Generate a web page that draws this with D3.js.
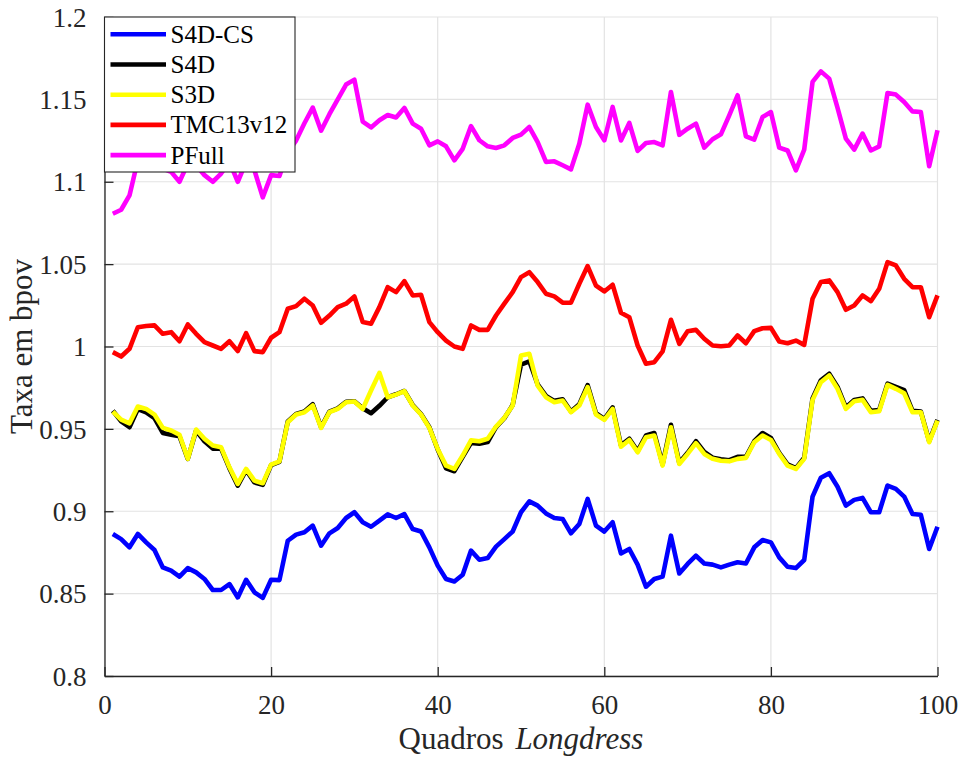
<!DOCTYPE html>
<html>
<head>
<meta charset="utf-8">
<script src="https://cdn.jsdelivr.net/npm/d3@7"></script>
<style>
  html, body { margin: 0; padding: 0; background: #fff; }
  svg { display: block; }
  svg text { font-family: "Liberation Serif", Tinos, "Times New Roman", Times, "DejaVu Serif", serif; }
</style>
</head>
<body>
<svg id="chart" width="963" height="760"></svg>
<script>
// Frame index 1..100 (Longdress sequence)
const frames = d3.range(1, 101);

const s4dcs = [
  0.8862, 0.8831, 0.8781, 0.8862, 0.8811, 0.8765, 0.8659, 0.8639, 0.8603, 0.8655,
  0.8629, 0.8589, 0.8522, 0.8522, 0.8558, 0.8477, 0.8584, 0.8508, 0.8474, 0.8584,
  0.8582, 0.8821, 0.8858, 0.8872, 0.8913, 0.8791, 0.8866, 0.8898, 0.8959, 0.8994,
  0.8933, 0.8906, 0.8943, 0.8981, 0.8959, 0.8983, 0.8892, 0.8877, 0.8781, 0.8670,
  0.8589, 0.8574, 0.8615, 0.8761, 0.8706, 0.8716, 0.8785, 0.8831, 0.8877, 0.8994,
  0.9060, 0.9034, 0.8987, 0.8959, 0.8953, 0.8866, 0.8923, 0.9075, 0.8913, 0.8877,
  0.8933, 0.8744, 0.8771, 0.8676, 0.8542, 0.8589, 0.8603, 0.8852, 0.8622, 0.8680,
  0.8730, 0.8683, 0.8676, 0.8659, 0.8676, 0.8690, 0.8683, 0.8781, 0.8825, 0.8811,
  0.8720, 0.8663, 0.8655, 0.8704, 0.9089, 0.9203, 0.9231, 0.9149, 0.9034, 0.9069,
  0.9081, 0.8994, 0.8994, 0.9156, 0.9136, 0.9089, 0.8983, 0.8979, 0.8771, 0.8906
];

const s4d = [
  0.9610, 0.9545, 0.9510, 0.9620, 0.9600, 0.9565, 0.9475, 0.9465, 0.9455, 0.9318,
  0.9490, 0.9425, 0.9380, 0.9380, 0.9260, 0.9155, 0.9250, 0.9175, 0.9160, 0.9280,
  0.9300, 0.9545, 0.9590, 0.9605, 0.9650, 0.9510, 0.9605, 0.9625, 0.9665, 0.9668,
  0.9625, 0.9595, 0.9640, 0.9692, 0.9710, 0.9730, 0.9645, 0.9590, 0.9510, 0.9375,
  0.9260, 0.9243, 0.9330, 0.9415, 0.9410, 0.9420, 0.9510, 0.9565, 0.9645, 0.9890,
  0.9910, 0.9770, 0.9700, 0.9670, 0.9680, 0.9605, 0.9650, 0.9765, 0.9595, 0.9560,
  0.9630, 0.9400, 0.9440, 0.9365, 0.9460, 0.9475, 0.9285, 0.9525, 0.9295, 0.9355,
  0.9425, 0.9360, 0.9325, 0.9315, 0.9310, 0.9330, 0.9330, 0.9425, 0.9475, 0.9445,
  0.9355, 0.9285, 0.9262, 0.9325, 0.9685, 0.9795, 0.9835, 0.9755, 0.9630, 0.9675,
  0.9685, 0.9610, 0.9615, 0.9775, 0.9755, 0.9735, 0.9610, 0.9605, 0.9425, 0.9555
];

const s3d = [
  0.9605, 0.9556, 0.9534, 0.9636, 0.9621, 0.9587, 0.9506, 0.9490, 0.9464, 0.9318,
  0.9496, 0.9440, 0.9399, 0.9388, 0.9267, 0.9166, 0.9257, 0.9186, 0.9170, 0.9283,
  0.9303, 0.9540, 0.9587, 0.9601, 0.9642, 0.9506, 0.9601, 0.9621, 0.9662, 0.9666,
  0.9621, 0.9733, 0.9840, 0.9692, 0.9708, 0.9729, 0.9642, 0.9587, 0.9506, 0.9378,
  0.9277, 0.9257, 0.9338, 0.9430, 0.9425, 0.9440, 0.9514, 0.9567, 0.9642, 0.9945,
  0.9956, 0.9763, 0.9692, 0.9662, 0.9672, 0.9601, 0.9642, 0.9753, 0.9587, 0.9555,
  0.9621, 0.9392, 0.9433, 0.9358, 0.9449, 0.9460, 0.9277, 0.9510, 0.9287, 0.9348,
  0.9413, 0.9348, 0.9318, 0.9307, 0.9303, 0.9318, 0.9324, 0.9419, 0.9460, 0.9433,
  0.9348, 0.9277, 0.9257, 0.9318, 0.9676, 0.9783, 0.9824, 0.9743, 0.9621, 0.9668,
  0.9676, 0.9601, 0.9607, 0.9767, 0.9743, 0.9716, 0.9601, 0.9601, 0.9419, 0.9550
];

const tmc13v12 = [
  0.9966, 0.9939, 0.9986, 1.0117, 1.0124, 1.0128, 1.0077, 1.0087, 1.0032, 1.0134,
  1.0077, 1.0026, 1.0006, 0.9986, 1.0032, 0.9972, 1.0081, 0.9972, 0.9966, 1.0053,
  1.0087, 1.0229, 1.0245, 1.0290, 1.0249, 1.0144, 1.0188, 1.0239, 1.0260, 1.0304,
  1.0148, 1.0138, 1.0239, 1.0360, 1.0330, 1.0397, 1.0310, 1.0314, 1.0148, 1.0087,
  1.0036, 1.0000, 0.9986, 1.0128, 1.0101, 1.0101, 1.0188, 1.0260, 1.0330, 1.0421,
  1.0451, 1.0391, 1.0320, 1.0304, 1.0266, 1.0266, 1.0381, 1.0488, 1.0370, 1.0334,
  1.0375, 1.0205, 1.0178, 1.0006, 0.9895, 0.9905, 0.9970, 1.0162, 1.0016, 1.0093,
  1.0101, 1.0047, 1.0006, 1.0002, 1.0006, 1.0067, 1.0020, 1.0093, 1.0111, 1.0113,
  1.0030, 1.0020, 1.0036, 1.0010, 1.0290, 1.0391, 1.0401, 1.0330, 1.0223, 1.0249,
  1.0310, 1.0275, 1.0350, 1.0512, 1.0492, 1.0411, 1.0360, 1.0360, 1.0178, 1.0310
];

const pfull = [
  1.0806, 1.0830, 1.0917, 1.1130, 1.1140, 1.1120, 1.1080, 1.1060, 1.1000, 1.1110,
  1.1100, 1.1040, 1.1000, 1.1050, 1.1120, 1.1000, 1.1120, 1.1070, 1.0905, 1.1040,
  1.1035, 1.1180, 1.1250, 1.1355, 1.1450, 1.1310, 1.1410, 1.1500, 1.1590, 1.1620,
  1.1365, 1.1330, 1.1373, 1.1405, 1.1390, 1.1448, 1.1353, 1.1322, 1.1221, 1.1245,
  1.1215, 1.1130, 1.1200, 1.1338, 1.1252, 1.1215, 1.1205, 1.1221, 1.1266, 1.1286,
  1.1332, 1.1241, 1.1120, 1.1124, 1.1100, 1.1075, 1.1231, 1.1468, 1.1332, 1.1251,
  1.1454, 1.1251, 1.1357, 1.1187, 1.1235, 1.1241, 1.1221, 1.1545, 1.1285, 1.1322,
  1.1353, 1.1207, 1.1258, 1.1288, 1.1403, 1.1525, 1.1276, 1.1256, 1.1393, 1.1423,
  1.1207, 1.1190, 1.1069, 1.1195, 1.1606, 1.1670, 1.1626, 1.1448, 1.1262, 1.1195,
  1.1292, 1.1190, 1.1215, 1.1539, 1.1529, 1.1484, 1.1427, 1.1423, 1.1094, 1.1312
];

const seriesNames = ["S4D-CS", "S4D", "S3D", "TMC13v12", "PFull"];
const seriesValues = [s4dcs, s4d, s3d, tmc13v12, pfull];
const seriesColors = ["#0000ff", "#000000", "#ffff00", "#ff0000", "#ff00ff"];

const xTicks = [0, 20, 40, 60, 80, 100];
const yTicks = [0.8, 0.85, 0.9, 0.95, 1, 1.05, 1.1, 1.15, 1.2];
const yTickLabels = ["0.8", "0.85", "0.9", "0.95", "1", "1.05", "1.1", "1.15", "1.2"];

const svg = d3.select("#chart");
const plot = { left: 104.5, right: 937.5, top: 17, bottom: 676 };

const x = d3.scaleLinear().domain([0, 100]).range([plot.left, plot.right]);
const y = d3.scaleLinear().domain([0.8, 1.2]).range([plot.bottom, plot.top]);

// grid
const grid = svg.append("g");
grid.selectAll("line.gx").data(xTicks).join("line")
  .attr("x1", d => x(d)).attr("x2", d => x(d))
  .attr("y1", plot.top).attr("y2", plot.bottom)
  .attr("stroke", "#e3e3e3").attr("stroke-width", 1.2);
grid.selectAll("line.gy").data(yTicks).join("line")
  .attr("x1", plot.left).attr("x2", plot.right)
  .attr("y1", d => y(d)).attr("y2", d => y(d))
  .attr("stroke", "#e3e3e3").attr("stroke-width", 1.2);

// series
const line = d3.line().x((d, i) => x(frames[i])).y(d => y(d));
const linesG = svg.append("g");
seriesValues.forEach((vals, k) => {
  linesG.append("path")
    .datum(vals)
    .attr("d", line)
    .attr("fill", "none")
    .attr("stroke", seriesColors[k])
    .attr("stroke-width", 4.6)
    .attr("stroke-linejoin", "round")
    .attr("stroke-linecap", "butt");
});

// axes
const xAxis = d3.axisBottom(x).tickValues(xTicks).tickSizeInner(-9).tickSizeOuter(0).tickPadding(20);
const yAxis = d3.axisLeft(y).tickValues(yTicks).tickSizeInner(-9).tickSizeOuter(0).tickPadding(18)
  .tickFormat((d, i) => yTickLabels[i]);

const gx = svg.append("g").attr("transform", `translate(0,${plot.bottom})`).call(xAxis);
const gy = svg.append("g").attr("transform", `translate(${plot.left},0)`).call(yAxis);
[gx, gy].forEach(g => {
  g.attr("font-family", null).attr("font-size", null);
  g.select(".domain").attr("stroke", "#262626").attr("stroke-width", 1.3);
  g.selectAll(".tick line").attr("stroke", "#262626").attr("stroke-width", 1.3);
  g.selectAll(".tick text").attr("fill", "#262626").style("font-size", "27px");
});
gy.selectAll(".tick text").attr("dy", "0.34em");
gx.selectAll(".tick text").attr("dy", "0.71em").attr("y", 19);

// axis titles
svg.append("text")
  .attr("transform", `translate(32,${(plot.top + plot.bottom) / 2}) rotate(-90)`)
  .attr("text-anchor", "middle")
  .style("font-size", "31px").attr("fill", "#262626")
  .text("Taxa em bpov");

const xt = svg.append("text")
  .attr("x", (plot.left + plot.right) / 2)
  .attr("y", 749)
  .attr("text-anchor", "middle")
  .style("font-size", "31px").attr("fill", "#262626")
  .style("white-space", "pre");
xt.append("tspan").text("Quadros ");
xt.append("tspan").attr("dx", 4).style("font-style", "italic").text("Longdress");

// legend
const legend = svg.append("g");
legend.append("rect")
  .attr("x", 104.5).attr("y", 17).attr("width", 190.5).attr("height", 155)
  .attr("fill", "#fff").attr("stroke", "#262626").attr("stroke-width", 1.1);
seriesNames.forEach((name, k) => {
  const ly = 34.3 + k * 30.2;
  legend.append("line")
    .attr("x1", 110.5).attr("x2", 166).attr("y1", ly).attr("y2", ly)
    .attr("stroke", seriesColors[k]).attr("stroke-width", 4.6);
  legend.append("text")
    .attr("x", 170.5).attr("y", ly).attr("dy", "0.34em")
    .style("font-size", "25px").attr("fill", "#000")
    .text(name);
});
</script>
</body>
</html>
